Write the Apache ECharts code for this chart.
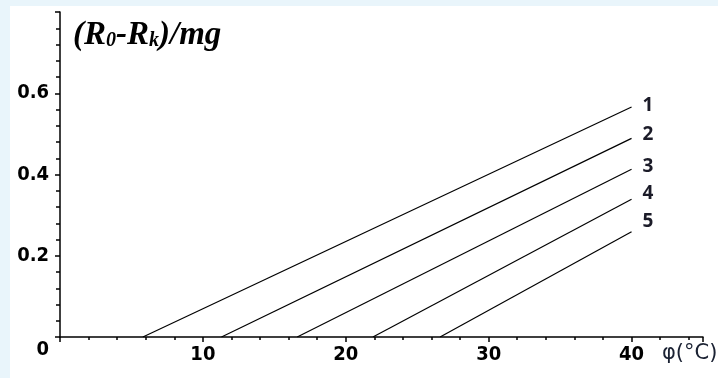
<!DOCTYPE html>
<html>
<head>
<meta charset="utf-8">
<script src="https://cdn.jsdelivr.net/npm/echarts@6/dist/echarts.min.js"></script>
<style>
html,body{margin:0;padding:0;background:#e9f5fb;}
#wrap{position:absolute;left:10px;top:6px;width:708px;height:372px;background:#fff;}
#chart{position:absolute;left:0;top:0;width:718px;height:378px;}
</style>
</head>
<body>
<div id="wrap"></div>
<div id="chart"></div>
<script>
// Data
const curveNames = ['1', '2', '3', '4', '5'];
const curveStartX = [5.8, 11.3, 16.6, 21.9, 26.6];   // φ where each curve meets 0
const curveEndX = [40, 40, 40, 40, 40];
const curveEndY = [0.566, 0.489, 0.413, 0.339, 0.259];
const xTicks = [10, 20, 30, 40];
const yTicks = [0, 0.2, 0.4, 0.6];

// label placement nudges (style only)
const labelNudgeY = [-1, -4, -3, -6, -10];

const chart = echarts.init(document.getElementById('chart'), null, {renderer: 'canvas'});

const series = curveNames.map((n, i) => ({
  type: 'line',
  name: n,
  data: [[curveStartX[i], 0], [curveEndX[i], curveEndY[i]]],
  showSymbol: false,
  symbol: 'none',
  silent: true,
  lineStyle: {color: '#000', width: 1.2},
  endLabel: {
    show: true,
    formatter: '{a}',
    offset: [3, labelNudgeY[i]],
    color: '#1b1b28',
    fontFamily: 'Open Sans',
    fontWeight: 'bold',
    fontSize: 19
  }
}));

const tickFont = {fontFamily: 'DejaVu Sans Condensed', fontWeight: 'bold', fontSize: 20, color: '#000'};

chart.setOption({
  backgroundColor: 'transparent',
  animation: false,
  title: {
    text: '{b|(R}{s|0}{b|-R}{s|k}{b|)/mg}',
    left: 68,
    top: 14,
    textStyle: {
      rich: {
        b: {fontFamily: 'Liberation Serif', fontStyle: 'italic', fontWeight: 'bold', fontSize: 33, color: '#000', verticalAlign: 'bottom'},
        s: {fontFamily: 'Liberation Serif', fontStyle: 'italic', fontSize: 20, color: '#000', verticalAlign: 'bottom', padding: [0, 0, 1, 0]}
      }
    }
  },
  grid: {left: 60, right: 15, top: 12, bottom: 41, containLabel: false},
  xAxis: {
    type: 'value',
    min: 0, max: 45, interval: 10,
    axisLine: {show: true, onZero: false, lineStyle: {color: '#000', width: 1.5}},
    axisTick: {show: true, length: 5, lineStyle: {color: '#000', width: 1.5}},
    minorTick: {show: true, splitNumber: 5, length: 3, lineStyle: {color: '#000', width: 1.5}},
    splitLine: {show: false},
    axisLabel: Object.assign({}, tickFont, {
      margin: 8,
      formatter: v => xTicks.includes(v) ? String(v) : ''
    })
  },
  yAxis: {
    type: 'value',
    min: 0, max: 0.8, interval: 0.2,
    axisLine: {show: true, onZero: false, lineStyle: {color: '#000', width: 1.5}},
    axisTick: {show: true, length: 5, lineStyle: {color: '#000', width: 1.5}},
    minorTick: {show: true, splitNumber: 5, length: 4, lineStyle: {color: '#000', width: 1.5}},
    splitLine: {show: false},
    axisLabel: Object.assign({}, tickFont, {
      margin: 11,
      formatter: v => {
        const t = yTicks.find(y => Math.abs(y - v) < 1e-9);
        if (t === undefined) return '';
        if (t === 0) return '{z|0}';
        return t.toFixed(1);
      },
      rich: {
        z: Object.assign({}, tickFont, {padding: [26, 0, 0, 0]})
      }
    })
  },
  graphic: [{
    type: 'text',
    left: 662,
    top: 343,
    style: {
      text: 'φ(°C)',
      fontFamily: 'DejaVu Sans',
      fontSize: 21,
      fill: '#1b2233'
    }
  }],
  series: series
});
</script>
</body>
</html>
